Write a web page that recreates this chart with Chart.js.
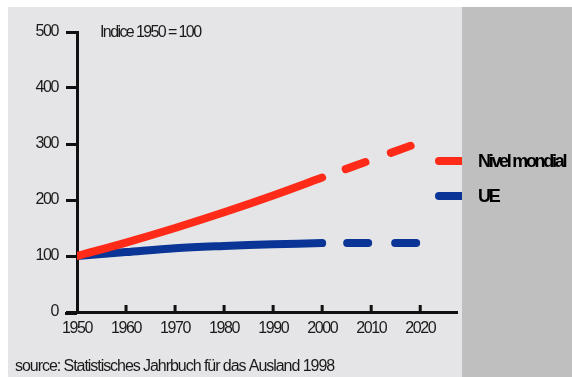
<!DOCTYPE html>
<html>
<head>
<meta charset="utf-8">
<script src="https://cdn.jsdelivr.net/npm/chart.js@4"></script>
<style>
  html, body { margin: 0; padding: 0; background: #fff; }
  #wrap { width: 572px; height: 377px; }
</style>
</head>
<body>
<div id="wrap"><canvas id="chart-canvas" width="572" height="377"></canvas></div>
<script>
const years = [1950, 1960, 1970, 1980, 1990, 2000];
const worldValues = [100, 124, 150, 178, 208, 240];
const euValues = [100, 107, 114, 118, 121, 123];

const projYears = [2000, 2020];
const worldProj = [240, 303];
const euProj = [123, 123];

const yTicks = [0, 100, 200, 300, 400, 500];
const xTicks = [1950, 1960, 1970, 1980, 1990, 2000, 2010, 2020];

const seriesNames = ["Nivel mondial", "UE"];
const indexNote = "Indice 1950 = 100";
const sourceNote = "source: Statistisches Jahrbuch für das Ausland 1998";

const RED = "#ff2a17";
const BLUE = "#0a3596";
const FONT = "'Liberation Sans', Arial, sans-serif";

const toPoints = (xs, ys) => xs.map((x, i) => ({ x: x, y: ys[i] }));

const backdrop = {
  id: "backdrop",
  beforeDraw(chart) {
    const ctx = chart.ctx;
    ctx.save();
    ctx.fillStyle = "#ffffff";
    ctx.fillRect(0, 0, chart.width, chart.height);
    ctx.fillStyle = "#e5e5e7";
    ctx.fillRect(8, 7, 454, 370);
    ctx.fillStyle = "#bfbfbf";
    ctx.fillRect(462, 7, 110, 370);
    ctx.restore();
    // narrow look for the tick labels
    ctx.letterSpacing = "-1.4px";
  },
  afterDraw(chart) {
    const ctx = chart.ctx;
    const xs = chart.scales.x;
    const area = chart.chartArea;
    ctx.save();
    // axis stub left of the y axis and upward ticks on the x axis
    ctx.strokeStyle = "#111";
    ctx.lineWidth = 3;
    ctx.beginPath();
    ctx.moveTo(65, area.bottom + 1.5);
    ctx.lineTo(area.left, area.bottom + 1.5);
    xs.ticks.forEach(t => {
      const px = xs.getPixelForValue(t.value);
      if (t.value === 1950) return;
      ctx.moveTo(px, area.bottom);
      ctx.lineTo(px, area.bottom - 7);
    });
    ctx.stroke();

    // notes
    ctx.fillStyle = "#1a1a1a";
    ctx.textBaseline = "middle";
    ctx.font = "16px " + FONT;
    ctx.letterSpacing = "-1.6px";
    ctx.fillText(indexNote, 100, 33);
    ctx.letterSpacing = "-1.05px";
    ctx.fillText(sourceNote, 15, 367);

    // legend
    const legendColors = [RED, BLUE];
    const legendY = [161, 196];
    ctx.lineCap = "round";
    ctx.lineWidth = 8;
    legendColors.forEach((c, i) => {
      ctx.strokeStyle = c;
      ctx.beginPath();
      ctx.moveTo(439, legendY[i]);
      ctx.lineTo(470, legendY[i]);
      ctx.stroke();
    });
    ctx.fillStyle = "#bfbfbf";
    ctx.fillRect(462, 150, 110, 60);
    ctx.fillStyle = "#000";
    ctx.font = "bold 18px " + FONT;
    ctx.letterSpacing = "-2.3px";
    seriesNames.forEach((n, i) => ctx.fillText(n, 478, legendY[i] + 1));
    ctx.restore();
  }
};

const lineStyle = (color) => ({
  borderColor: color,
  borderWidth: 8,
  pointRadius: 0,
  fill: false,
  borderCapStyle: "round",
});

const config = {
  type: "line",
  data: {
    datasets: [
      { label: seriesNames[0], data: toPoints(years, worldValues), tension: 0.35, ...lineStyle(RED) },
      { label: seriesNames[1], data: toPoints(years, euValues), tension: 0.35, ...lineStyle(BLUE) },
      { label: seriesNames[0] + " (proj.)", data: toPoints(projYears, worldProj), borderDash: [21, 27], borderDashOffset: 23, ...lineStyle(RED) },
      { label: seriesNames[1] + " (proj.)", data: toPoints(projYears, euProj), borderDash: [21, 27], borderDashOffset: 23, ...lineStyle(BLUE) },
    ],
  },
  options: {
    responsive: false,
    animation: false,
    layout: { padding: { left: 0, top: 32, right: 115, bottom: 0 } },
    plugins: { legend: { display: false }, tooltip: { enabled: false } },
    scales: {
      x: {
        type: "linear",
        min: 1950,
        max: 2027.5,
        afterBuildTicks: (s) => { s.ticks = xTicks.map(v => ({ value: v })); },
        afterFit: (s) => { s.height = 65; },
        grid: { display: false, drawTicks: false },
        border: { display: true, color: "#111", width: 3 },
        ticks: { color: "#1a1a1a", padding: 7, maxRotation: 0, font: { family: FONT, size: 16 },
                 callback: (v) => String(v) },
      },
      y: {
        min: 0,
        max: 500,
        afterBuildTicks: (s) => { s.ticks = yTicks.map(v => ({ value: v })); },
        afterFit: (s) => { s.width = 77; },
        grid: { drawOnChartArea: false, tickLength: 11, lineWidth: 3, color: "#111" },
        border: { display: true, color: "#111", width: 3 },
        ticks: { color: "#1a1a1a", padding: 8, font: { family: FONT, size: 16 } },
      },
    },
  },
  plugins: [backdrop],
};

const myChart = new Chart(document.getElementById("chart-canvas"), config);
</script>
</body>
</html>
